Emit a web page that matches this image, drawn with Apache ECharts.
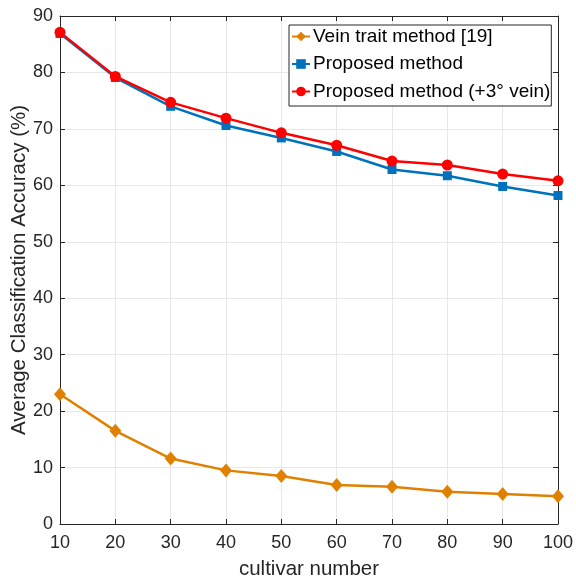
<!DOCTYPE html>
<html>
<head>
<meta charset="utf-8">
<script src="https://cdn.jsdelivr.net/npm/echarts@6/dist/echarts.min.js"></script>
<style>
  html, body { margin: 0; padding: 0; background: #fff; }
</style>
</head>
<body>
<div id="main" style="width: 576px;height: 577px;"></div>
<script>
// values
const cultivars = [10, 20, 30, 40, 50, 60, 70, 80, 90, 100]
const veinTrait = [23.0, 16.5, 11.6, 9.5, 8.5, 6.9, 6.6, 5.7, 5.3, 4.9]
const proposed = [86.9, 79.1, 74.0, 70.6, 68.4, 66.0, 62.8, 61.7, 59.8, 58.2]
const proposedVein = [87.1, 79.3, 74.7, 71.9, 69.3, 67.1, 64.3, 63.6, 62.0, 60.8]
const seriesNames = ['Vein trait method [19]', 'Proposed method', 'Proposed method (+3° vein)']

const font = 'Liberation Sans, Arial, sans-serif'
const chart = echarts.init(document.getElementById('main'))

function pairs (ys) {
  return cultivars.map((x, i) => [x, ys[i]])
}

const tickStyle = { show: true, inside: true, length: 5, lineStyle: { color: '#262626' } }
const lineAxis = { show: true, onZero: false, lineStyle: { color: '#262626', width: 1 } }

const option = {
  animation: false,
  grid: { left: 60, right: 18, top: 16, bottom: 53, containLabel: false, outerBoundsMode: 'none' },
  legend: {
    orient: 'vertical',
    left: 289,
    top: 25,
    padding: [2, 1, 5, 2],
    itemGap: 8.5,
    itemWidth: 18,
    itemHeight: 12,
    backgroundColor: '#fff',
    borderColor: '#262626',
    borderWidth: 1,
    textStyle: { fontFamily: font, fontSize: 19, color: '#000', padding: [0, 0, 0, -2] },
    data: seriesNames
  },
  xAxis: [
    {
      type: 'value',
      min: 10,
      max: 100,
      interval: 10,
      name: 'cultivar number',
      nameLocation: 'middle',
      nameGap: 35,
      nameMoveOverlap: false,
      nameTextStyle: { fontFamily: font, fontSize: 20.5, color: '#262626' },
      axisLine: lineAxis,
      axisTick: tickStyle,
      axisLabel: { fontFamily: font, fontSize: 18, color: '#262626', margin: 10 },
      splitLine: { show: true, lineStyle: { color: '#e8e8e8' } }
    },
    {
      type: 'value',
      position: 'top',
      min: 10,
      max: 100,
      interval: 10,
      axisLine: lineAxis,
      axisTick: tickStyle,
      axisLabel: { show: false },
      splitLine: { show: false }
    }
  ],
  yAxis: [
    {
      type: 'value',
      min: 0,
      max: 90,
      interval: 10,
      name: 'Average Classification Accuracy (%)',
      nameLocation: 'middle',
      nameGap: 30,
      nameMoveOverlap: false,
      nameTextStyle: { fontFamily: font, fontSize: 20.5, color: '#262626' },
      axisLine: lineAxis,
      axisTick: tickStyle,
      axisLabel: { fontFamily: font, fontSize: 18, color: '#262626', margin: 7 },
      splitLine: { show: true, lineStyle: { color: '#e8e8e8' } }
    },
    {
      type: 'value',
      position: 'right',
      min: 0,
      max: 90,
      interval: 10,
      axisLine: lineAxis,
      axisTick: tickStyle,
      axisLabel: { show: false },
      splitLine: { show: false }
    }
  ],
  series: [
    {
      name: seriesNames[0],
      type: 'line',
      data: pairs(veinTrait),
      symbol: 'diamond',
      symbolSize: [12, 14],
      itemStyle: { color: '#e08000' },
      lineStyle: { color: '#e08000', width: 2.5 }
    },
    {
      name: seriesNames[1],
      type: 'line',
      data: pairs(proposed),
      symbol: 'rect',
      symbolSize: 9,
      itemStyle: { color: '#0072bd' },
      lineStyle: { color: '#0072bd', width: 2.5 }
    },
    {
      name: seriesNames[2],
      type: 'line',
      data: pairs(proposedVein),
      symbol: 'circle',
      symbolSize: 11,
      itemStyle: { color: '#ff0000' },
      lineStyle: { color: '#ff0000', width: 2.5 }
    }
  ]
}

chart.setOption(option)
</script>
</body>
</html>
